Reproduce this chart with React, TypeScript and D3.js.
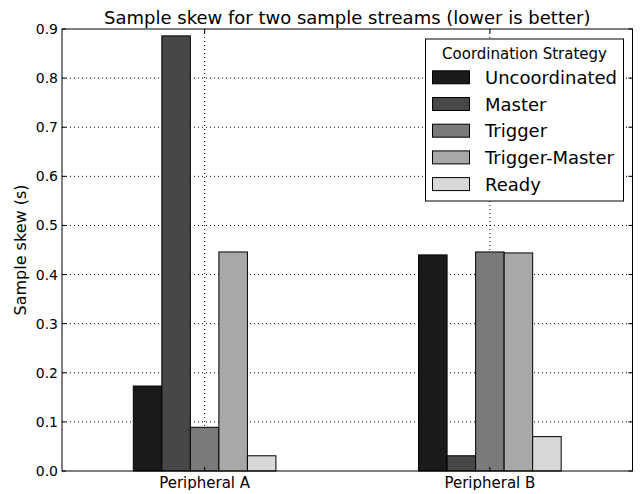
import React, { useRef, useEffect } from "react";
import * as d3 from "d3";

const categories = ["Peripheral A", "Peripheral B"];
const strategies = [
  "Uncoordinated",
  "Master",
  "Trigger",
  "Trigger-Master",
  "Ready",
];
const colors = ["#1a1a1a", "#474747", "#7a7a7a", "#a8a8a8", "#d8d8d8"];
// values per strategy, one per category
const uncoordinated = [0.173, 0.44];
const master = [0.886, 0.031];
const trigger = [0.089, 0.446];
const triggerMaster = [0.446, 0.444];
const ready = [0.031, 0.07];
const yTicks = [0, 0.1, 0.2, 0.3, 0.4, 0.5, 0.6, 0.7, 0.8, 0.9];

const series = [uncoordinated, master, trigger, triggerMaster, ready];

const SkewChart = ({ width = 643, height = 494 }) => {
  const ref = useRef<SVGSVGElement>(null);

  useEffect(() => {
    const container = ref.current;
    if (!container) return;
    d3.select(container).selectChildren().remove();

    const margin = { top: 29, right: 10.5, bottom: 23, left: 62 };
    const w = width - margin.left - margin.right;
    const h = height - margin.top - margin.bottom;
    const font = "DejaVu Sans";

    const svg = d3
      .select(container)
      .style("font-family", font)
      .append("g")
      .attr("transform", `translate(${margin.left}, ${margin.top})`);

    const x = d3.scaleLinear().domain([-0.5, 1.5]).range([0, w]);
    const y = d3.scaleLinear().domain([0, 0.9]).range([h, 0]);
    const barW = 0.1;

    // grid
    svg
      .append("g")
      .selectAll("line")
      .data(yTicks.slice(1, -1))
      .join("line")
      .attr("x1", 0)
      .attr("x2", w)
      .attr("y1", (d) => y(d))
      .attr("y2", (d) => y(d))
      .attr("stroke", "black")
      .attr("stroke-width", 1)
      .attr("stroke-dasharray", "1,3");

    svg
      .append("g")
      .selectAll("line")
      .data(categories.map((_, i) => i))
      .join("line")
      .attr("x1", (d) => x(d))
      .attr("x2", (d) => x(d))
      .attr("y1", 0)
      .attr("y2", h)
      .attr("stroke", "black")
      .attr("stroke-width", 1)
      .attr("stroke-dasharray", "1,3");

    // bars
    series.forEach((vals, s) => {
      svg
        .append("g")
        .selectAll("rect")
        .data(vals)
        .join("rect")
        .attr("x", (_d, i) => x(i - 0.25 + s * barW))
        .attr("width", x(barW) - x(0))
        .attr("y", (d) => y(d))
        .attr("height", (d) => y(0) - y(d))
        .attr("fill", colors[s])
        .attr("stroke", "black")
        .attr("stroke-width", 1);
    });

    // frame
    svg
      .append("rect")
      .attr("width", w)
      .attr("height", h)
      .attr("fill", "none")
      .attr("stroke", "black")
      .attr("stroke-width", 1);

    // y ticks (inside, both sides)
    const yt = svg.append("g").selectAll("g").data(yTicks).join("g");
    yt.append("line")
      .attr("x1", 0)
      .attr("x2", 4)
      .attr("y1", (d) => y(d))
      .attr("y2", (d) => y(d))
      .attr("stroke", "black");
    yt.append("line")
      .attr("x1", w)
      .attr("x2", w - 4)
      .attr("y1", (d) => y(d))
      .attr("y2", (d) => y(d))
      .attr("stroke", "black");
    yt.append("text")
      .attr("x", -4)
      .attr("y", (d) => y(d))
      .attr("dy", "0.36em")
      .attr("text-anchor", "end")
      .style("font-size", "14px")
      .text((d) => d.toFixed(1));

    // x ticks
    const xt = svg
      .append("g")
      .selectAll("g")
      .data(categories)
      .join("g");
    xt.append("line")
      .attr("x1", (_d, i) => x(i))
      .attr("x2", (_d, i) => x(i))
      .attr("y1", h)
      .attr("y2", h - 4)
      .attr("stroke", "black");
    xt.append("line")
      .attr("x1", (_d, i) => x(i))
      .attr("x2", (_d, i) => x(i))
      .attr("y1", 0)
      .attr("y2", 4)
      .attr("stroke", "black");
    xt.append("text")
      .attr("x", (_d, i) => x(i))
      .attr("y", h + 17)
      .attr("text-anchor", "middle")
      .style("font-size", "15px")
      .text((d) => d);

    // title
    svg
      .append("text")
      .attr("x", w / 2)
      .attr("y", -5)
      .attr("text-anchor", "middle")
      .style("font-size", "18px")
      .text("Sample skew for two sample streams (lower is better)");

    // y label
    svg
      .append("text")
      .attr("transform", `translate(${-36}, ${h / 2}) rotate(-90)`)
      .attr("text-anchor", "middle")
      .style("font-size", "16px")
      .text("Sample skew (s)");

    // legend
    const lx = 425.5 - margin.left;
    const ly = 39 - margin.top;
    const legend = svg.append("g").attr("transform", `translate(${lx}, ${ly})`);
    legend
      .append("rect")
      .attr("width", 198)
      .attr("height", 162)
      .attr("fill", "white")
      .attr("stroke", "black")
      .attr("stroke-width", 1);
    legend
      .append("text")
      .attr("x", 99)
      .attr("y", 19.5)
      .attr("text-anchor", "middle")
      .style("font-size", "15px")
      .text("Coordination Strategy");
    const item = legend
      .selectAll("g.item")
      .data(strategies)
      .join("g")
      .attr("class", "item")
      .attr("transform", (_d, i) => `translate(0, ${38.3 + i * 26.7})`);
    item
      .append("rect")
      .attr("x", 7)
      .attr("y", -6.5)
      .attr("width", 37)
      .attr("height", 13)
      .attr("fill", (_d, i) => colors[i])
      .attr("stroke", "black");
    item
      .append("text")
      .attr("x", 59.5)
      .attr("y", 6.5)
      .style("font-size", "18px")
      .text((d) => d);
  }, [width, height]);

  return <svg width={width} height={height} ref={ref} />;
};

export default function App() {
  return (
    <div style={{ margin: -8 }}>
      <SkewChart />
    </div>
  );
}
